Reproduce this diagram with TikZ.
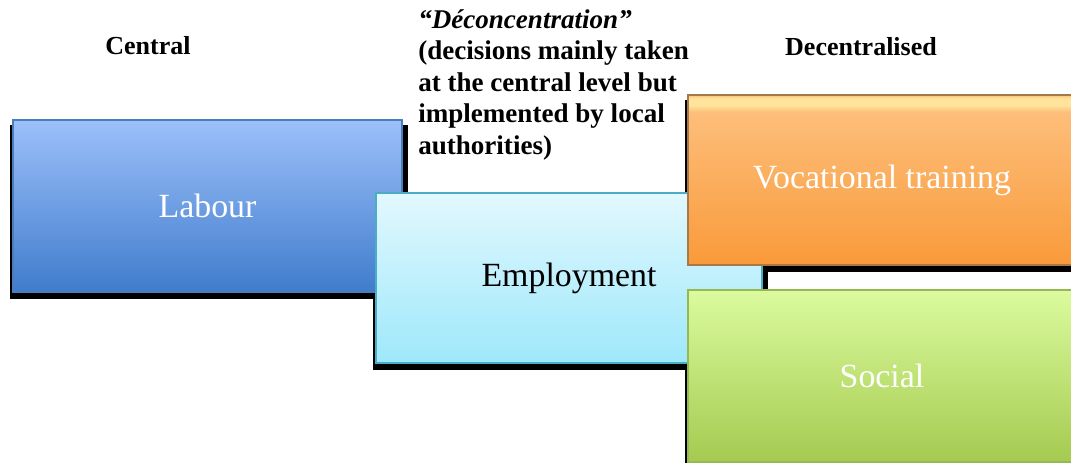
\documentclass[tikz,border=0pt]{standalone}
\usepackage{fontspec}
\setmainfont{Liberation Serif}
\usetikzlibrary{backgrounds}
\definecolor{labTop}{RGB}{156,192,250}
\definecolor{labBot}{RGB}{64,124,204}
\definecolor{labEdge}{RGB}{74,126,187}
\definecolor{empTop}{RGB}{226,248,254}
\definecolor{empBot}{RGB}{158,232,251}
\definecolor{empEdge}{RGB}{75,172,198}
\definecolor{orBot}{RGB}{249,154,58}
\definecolor{orMid}{RGB}{253,190,122}
\definecolor{orHi}{RGB}{255,228,155}
\definecolor{orEdge}{RGB}{165,122,72}
\definecolor{grTop}{RGB}{219,251,158}
\definecolor{grBot}{RGB}{165,202,80}
\definecolor{grEdge}{RGB}{150,185,85}
\pgfdeclareverticalshading{orgloss}{100bp}{color(0bp)=(orBot); color(25bp)=(orBot); color(70bp)=(orMid); color(72bp)=(orHi); color(74bp)=(orHi); color(75bp)=(orMid); color(100bp)=(orMid)}
\tikzset{
  boxnode/.style={rectangle, inner sep=0pt, outer sep=0pt, line width=1.2pt,
    font=\fontsize{25.4}{30}\selectfont, align=center},
  headlabel/.style={inner sep=0pt, font=\bfseries\fontsize{19.5}{23}\selectfont},
  shadowfill/.style={fill=black}
}
\begin{document}
\begin{tikzpicture}[x=0.75pt,y=-0.75pt]
\useasboundingbox (0,0) rectangle (1071,463);
\node[boxnode, minimum width=291.75pt, minimum height=129pt, top color=labTop, bottom color=labBot, draw=labEdge, text=white] (labour) at (207.5,206) {Labour};
\node[boxnode, minimum width=289.5pt, minimum height=127.5pt, top color=empTop, bottom color=empBot, draw=empEdge, text=black] (employment) at (569,278) {Employment};
\node[boxnode, minimum width=291pt, minimum height=127.5pt, shading=orgloss, draw=orEdge, text=white] (vocational) at (882,180) {Vocational training};
\node[boxnode, minimum width=291pt, minimum height=129pt, top color=grTop, bottom color=grBot, draw=grEdge, text=white] (social) at (882,376) {Social};
\begin{scope}[on background layer]
  \foreach \n in {labour,employment,vocational,social}
    \fill[shadowfill] ([shift={(-3,5)}]\n.north west) rectangle ([shift={(6,7)}]\n.south east);
\end{scope}
\node[headlabel] (central) at (148,46) {Central};
\node[headlabel] (decentral) at (861,47) {Decentralised};
\node[headlabel, font=\bfseries\fontsize{20.3}{23.7}\selectfont, anchor=north west, align=left] (deconc) at (418,9) {\textit{“Déconcentration”}\\(decisions mainly taken\\at the central level but\\implemented by local\\authorities)};
\end{tikzpicture}
\end{document}
